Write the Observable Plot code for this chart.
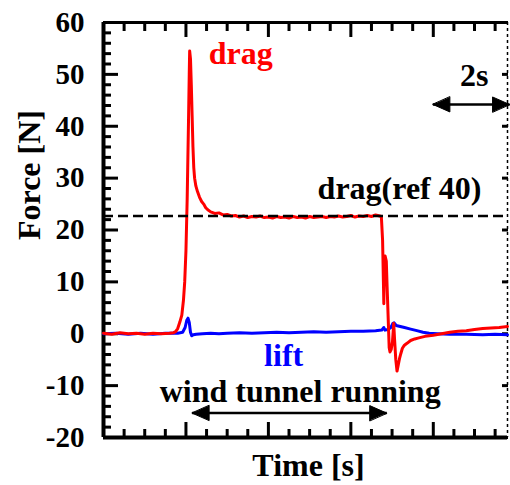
<!DOCTYPE html>
<html>
<head>
<meta charset="utf-8">
<script src="https://cdn.jsdelivr.net/npm/d3@7"></script>
<script src="https://cdn.jsdelivr.net/npm/@observablehq/plot@0.6"></script>
<style>
  html, body { margin: 0; padding: 0; background: #ffffff; }
  svg { display: block; }
</style>
</head>
<body>
<div id="chart"></div>
<script>
// ---- data (time in s, force in N) ----
const dragSeries = [
  [0,0.1],[0.2,-0.1],[0.4,0.2],[0.6,0],[0.8,0.1],[1.0,-0.1],[1.2,0.1],[1.4,0],[1.6,0.1],[1.7,0.2],
  [1.75,0.4],[1.8,1.0],[1.85,2.2],[1.9,3.6],[1.94,6.5],[1.97,10],[2.0,16],[2.03,26],[2.06,40],[2.08,50],
  [2.09,54.5],[2.11,53],[2.13,48],[2.15,42],[2.17,36],[2.19,32],[2.21,30],[2.24,28.5],[2.28,27.4],[2.33,26.3],
  [2.38,25.5],[2.43,25.0],[2.48,24.3],[2.53,23.9],[2.6,23.5],[2.7,23.2],[2.8,23.3],[2.9,22.9],[3.0,23.0],[3.1,22.7],
  [3.2,22.8],[3.3,22.5],[3.4,22.7],[3.5,22.4],[3.6,22.6],[3.7,22.5],[3.8,22.7],[3.9,22.4],[4.0,22.5],[4.1,22.3],
  [4.2,22.6],[4.3,22.4],[4.4,22.5],[4.5,22.3],[4.6,22.6],[4.7,22.4],[4.8,22.5],[4.9,22.3],[5.0,22.6],[5.1,22.4],
  [5.2,22.5],[5.3,22.6],[5.4,22.4],[5.5,22.6],[5.6,22.5],[5.7,22.7],[5.8,22.5],[5.9,22.6],[6.0,22.8],[6.1,22.5],
  [6.2,22.7],[6.3,22.6],[6.4,22.8],[6.5,22.6],[6.6,22.9],[6.7,22.7],[6.74,22.6],[6.77,18],[6.79,10],[6.80,5.8],
  [6.81,12],[6.83,15],[6.86,14],[6.88,9],[6.91,2],[6.93,-2.7],[6.95,-3.5],[6.98,-3.0],[7.01,-1.5],[7.04,2.0],
  [7.06,-1],[7.09,-5],[7.12,-7.2],[7.15,-6],[7.18,-4.8],[7.21,-3.9],[7.25,-2.8],[7.3,-2.2],[7.37,-1.8],[7.45,-1.3],
  [7.55,-1.0],[7.65,-0.8],[7.8,-0.5],[8.0,-0.3],[8.2,0.0],[8.4,0.3],[8.6,0.5],[8.8,0.6],[9.0,0.8],[9.2,1.0],
  [9.4,1.1],[9.6,1.2],[9.8,1.4]
];
const liftSeries = [
  [0,0],[0.3,0.1],[0.6,-0.1],[0.9,0.1],[1.2,-0.1],[1.5,0.1],[1.8,0.1],[1.92,0.3],[1.98,1.2],[2.02,2.6],
  [2.05,3.0],[2.08,2.2],[2.11,0.3],[2.14,-0.4],[2.18,-0.2],[2.25,-0.1],[2.4,0],[2.6,0.1],[2.8,0],[3.0,0.1],
  [3.3,0.2],[3.6,0.1],[3.9,0.2],[4.2,0.3],[4.5,0.2],[4.8,0.3],[5.1,0.4],[5.4,0.3],[5.7,0.4],[6.0,0.5],
  [6.3,0.5],[6.6,0.6],[6.75,0.7],[6.8,1.2],[6.83,0.7],[6.9,0.8],[6.97,1.2],[7.02,2.0],[7.05,2.1],[7.1,1.6],
  [7.2,1.4],[7.3,1.2],[7.45,0.9],[7.6,0.6],[7.75,0.3],[7.9,0.1],[8.1,0],[8.4,-0.1],[8.8,-0.1],[9.2,-0.2],
  [9.5,-0.1],[9.8,-0.2]
];
const referenceDrag = [22.7];

const xDomain = [0, 9.8];
const yDomain = [-20, 60];
const yMajorTicks = [-20,-10,0,10,20,30,40,50,60];
const yMinorTicks = [-18,-16,-14,-12,-8,-6,-4,-2,2,4,6,8,12,14,16,18,22,24,26,28,32,34,36,38,42,44,46,48,52,54,56,58];
const xMajorTicks = [0,2,4,6,8];
const xMinorTicks = [0.5,1,1.5,2.5,3,3.5,4.5,5,5.5,6.5,7,7.5,8.5,9,9.5];

const annotations = [
  {label: "drag", t: 3.33, v: 54.0, color: "#ff0000"},
  {label: "2s", t: 8.99, v: 49.8, color: "#000000"},
  {label: "drag(ref 40)", t: 7.18, v: 28.0, color: "#000000"},
  {label: "lift", t: 4.37, v: -4.15, color: "#0000ff"},
  {label: "wind tunnel running", t: 4.77, v: -11.2, color: "#000000"}
];
const spanArrows = [
  {t1: 7.99, t2: 9.85, v: 44.2},
  {t1: 2.15, t2: 6.87, v: -15.3}
];
const xTitle = ["Time [s]"];
const yTitle = ["Force [N]"];

// ---- build ----
const drag = dragSeries.map(([t, v]) => ({t, v}));
const lift = liftSeries.map(([t, v]) => ({t, v}));
const heads = spanArrows.flatMap(a => [{t: a.t1, v: a.v, r: -90}, {t: a.t2, v: a.v, r: 90}]);
const triangleHead = {
  draw(context, l) {
    context.moveTo(0, -l);
    context.lineTo(-7.5, 0);
    context.lineTo(7.5, 0);
    context.closePath();
  }
};
const blank = () => "";
const hyphenFormat = d => String(d);
const FONT = "Liberation Serif, Times New Roman, serif";

const chart = Plot.plot({
  width: 510,
  height: 485,
  marginLeft: 103,
  marginRight: 3,
  marginTop: 22,
  marginBottom: 48,
  style: {fontFamily: FONT, fontWeight: "bold", background: "#ffffff", color: "#000000", overflow: "visible"},
  x: {domain: xDomain},
  y: {domain: yDomain},
  marks: [
    // minor/major ticks, all pointing inward
    Plot.axisY(yMinorTicks, {anchor: "left", tickSize: -8, strokeWidth: 3, tickFormat: blank, label: null}),
    Plot.axisY(yMajorTicks, {anchor: "left", tickSize: -15, strokeWidth: 3, tickPadding: 34, tickFormat: hyphenFormat, fontSize: 29, fontWeight: "bold", fontFamily: FONT, label: null}),
    Plot.axisY(yMajorTicks, {anchor: "right", tickSize: -6, strokeWidth: 3, tickFormat: blank, label: null}),
    Plot.axisX(xMinorTicks, {anchor: "bottom", tickSize: -8, strokeWidth: 3, tickFormat: blank, label: null}),
    Plot.axisX(xMajorTicks, {anchor: "bottom", tickSize: -15, strokeWidth: 3, tickFormat: blank, label: null}),
    Plot.axisX(xMinorTicks, {anchor: "top", tickSize: -8, strokeWidth: 3, tickFormat: blank, label: null}),
    Plot.axisX(xMajorTicks, {anchor: "top", tickSize: -14, strokeWidth: 3, tickFormat: blank, label: null}),
    // frame
    Plot.ruleX([xDomain[1]], {strokeWidth: 1.5, strokeDasharray: "3,3"}),
    Plot.ruleY([yDomain[1]], {strokeWidth: 3.2}),
    Plot.ruleY([yDomain[0]], {strokeWidth: 4}),
    Plot.ruleX([xDomain[0]], {strokeWidth: 4}),
    // data
    Plot.line(lift, {x: "t", y: "v", stroke: "#0000ff", strokeWidth: 3}),
    Plot.line(drag, {x: "t", y: "v", stroke: "#ff0000", strokeWidth: 3}),
    Plot.ruleY(referenceDrag, {strokeWidth: 2.5, strokeDasharray: "10,5"}),
    // annotations
    Plot.link(spanArrows, {x1: "t1", x2: "t2", y1: "v", y2: "v", strokeWidth: 2.5}),
    Plot.vector(heads, {x: "t", y: "v", rotate: "r", length: 17, anchor: "end", shape: triangleHead, fill: "#000000", stroke: "#000000", strokeWidth: 1}),
    Plot.text(annotations, {x: "t", y: "v", text: "label", fill: "color", fontSize: 32, fontWeight: "bold", fontFamily: FONT, textAnchor: "middle", lineAnchor: "middle"}),
    Plot.text(xTitle, {text: d => d, frameAnchor: "bottom", dx: 3, dy: 28, fontSize: 32, fontWeight: "bold", fontFamily: FONT, lineAnchor: "middle"}),
    Plot.text(yTitle, {text: d => d, frameAnchor: "left", dx: -74, dy: 10, rotate: -90, fontSize: 32, fontWeight: "bold", fontFamily: FONT, lineAnchor: "middle"})
  ]
});
document.getElementById("chart").appendChild(chart);
</script>
</body>
</html>
